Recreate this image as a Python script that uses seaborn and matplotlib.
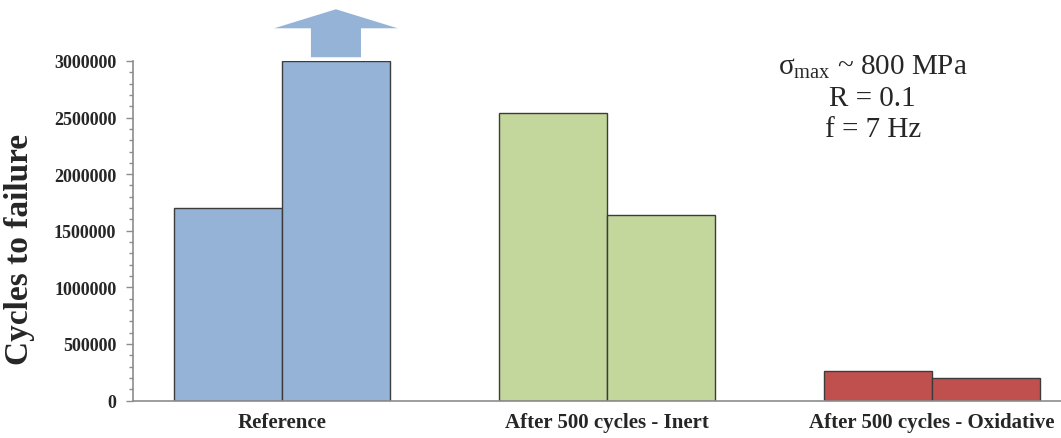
## fatigue life bar chart: cycles to failure for reference vs pre-cycled specimens

import pandas as pd
import seaborn as sns
import matplotlib.pyplot as plt
from matplotlib.patches import FancyArrow
from matplotlib.ticker import MultipleLocator, StrMethodFormatter

categories = ['Reference', 'After 500 cycles - Inert', 'After 500 cycles - Oxidative']
specimens = ['Specimen 1', 'Specimen 2']
specimen1 = [1700000, 2540000, 258000]
specimen2 = [3000000, 1635000, 200000]
colors = ['#95B3D7', '#C3D69B', '#C0504D']
runout_value = 3000000  # reference specimen 2 did not fail

df = pd.DataFrame({
    'Condition': categories * 2,
    'Specimen': [specimens[0]] * 3 + [specimens[1]] * 3,
    'Cycles': specimen1 + specimen2,
})

sns.set_style('white')
plt.rcParams['font.family'] = ['Liberation Serif', 'DejaVu Serif']
plt.rcParams['mathtext.fontset'] = 'custom'
plt.rcParams['mathtext.rm'] = 'Liberation Serif'
plt.rcParams['mathtext.it'] = 'Liberation Serif:italic'

fig = plt.figure(figsize=(10.61, 4.39), dpi=100)
ax = fig.add_axes([0.1254, 0.0854, 0.8746, 0.7734])

sns.barplot(data=df, x='Condition', y='Cycles', hue='Specimen', order=categories,
            hue_order=specimens, width=0.665, gap=0, legend=False, ax=ax,
            edgecolor='#3c3c3c', linewidth=1)

# colour by condition, not by specimen
for cont in ax.containers:
    for i, bar in enumerate(cont):
        bar.set_facecolor(colors[i])

# arrow above the run-out bar
run_bar = ax.containers[1][0]
cx = run_bar.get_x() + run_bar.get_width() / 2
ax.add_patch(FancyArrow(cx, runout_value * 1.011, 0, 0.424e6, width=0.154,
                        head_width=0.38, head_length=0.168e6,
                        length_includes_head=True, color=colors[0],
                        linewidth=0, clip_on=False))

ax.set_xlim(-0.458, 2.397)
ax.set_ylim(0, 3000000)
ax.yaxis.set_major_locator(MultipleLocator(500000))
ax.yaxis.set_minor_locator(MultipleLocator(100000))
ax.yaxis.set_major_formatter(StrMethodFormatter('{x:.0f}'))
ax.tick_params(axis='y', which='major', direction='out', length=5, width=1,
               color='#8c8c8c', left=True, labelsize=13, pad=7)
ax.tick_params(axis='y', which='minor', direction='out', length=3, width=1,
               color='#8c8c8c', left=True)
ax.tick_params(axis='x', length=0, labelsize=15, pad=8)
for lbl in ax.get_yticklabels() + ax.get_xticklabels():
    lbl.set_fontweight('bold')

ax.set_xlabel('')
ax.set_ylabel('Cycles to failure', fontsize=24, fontweight='bold')
ax.yaxis.set_label_coords(-0.1056, 0.447)

for side in ['top', 'right']:
    ax.spines[side].set_visible(False)
for side in ['left', 'bottom']:
    ax.spines[side].set_color('#8c8c8c')
    ax.spines[side].set_linewidth(1.2)

ax.text(0.797, 1.025, r'$\mathrm{\sigma_{max}}$ ~ 800 MPa' + '\nR = 0.1\nf = 7 Hz',
        transform=ax.transAxes, ha='center', va='top', fontsize=21,
        linespacing=1.25)

fig.savefig('out.png', dpi=100)
